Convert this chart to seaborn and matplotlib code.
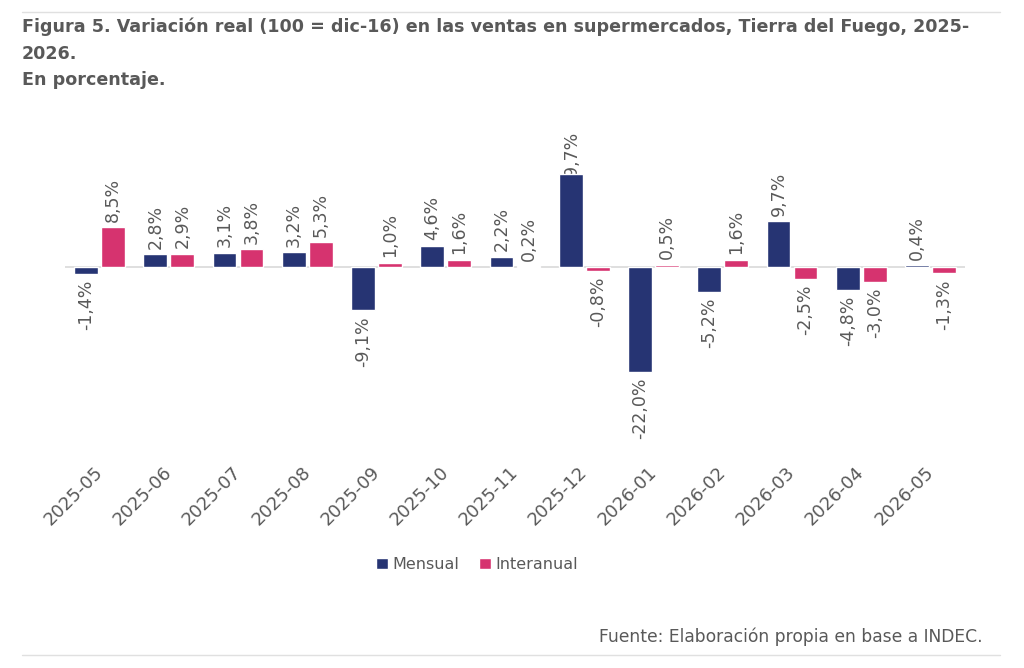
import pandas as pd
import matplotlib.pyplot as plt
import matplotlib.transforms as mtransforms
import seaborn as sns

# Datos (variación % real, ventas en supermercados, Tierra del Fuego)
meses = ['2025-05', '2025-06', '2025-07', '2025-08', '2025-09', '2025-10', '2025-11',
         '2025-12', '2026-01', '2026-02', '2026-03', '2026-04', '2026-05']
mensual = [-1.4, 2.8, 3.1, 3.2, -9.1, 4.6, 2.2, 19.7, -22.0, -5.2, 9.7, -4.8, 0.4]
interanual = [8.5, 2.9, 3.8, 5.3, 1.0, 1.6, 0.2, -0.8, 0.5, 1.6, -2.5, -3.0, -1.3]

df = pd.DataFrame({
    'mes': meses * 2,
    'valor': mensual + interanual,
    'serie': ['Mensual'] * len(meses) + ['Interanual'] * len(meses),
})

navy = '#263473'
pink = '#D6336F'
gris = '#595959'

sns.set_style('white')
plt.rcParams['font.family'] = ['DejaVu Sans']

fig = plt.figure(figsize=(10.24, 6.68), dpi=100)
ax = fig.add_axes([65 / 1024, 1 - 452 / 668, 900 / 1024, 322 / 668])

sns.barplot(data=df, x='mes', y='valor', hue='serie', palette=[navy, pink],
            saturation=1, width=0.78, gap=0.12, ax=ax, legend=True, zorder=3)

ax.set_xlim(-0.5, len(meses) - 0.5)
ax.set_ylim(-39, 29)
ax.axhline(0, color='#D9D9D9', lw=1.2, zorder=2)

# Etiquetas de datos
ymax = ax.get_ylim()[1]
for cont in ax.containers:
    for bar in cont:
        v = bar.get_height()
        x = bar.get_x() + bar.get_width() / 2
        txt = f"{v:.1f}%".replace('.', ',')
        if v > 15:
            # no cabe encima: se ancla al borde superior del área
            ax.text(x, ymax - 0.2, txt, rotation=90, ha='center', va='top', color=gris,
                    fontsize=12.5, zorder=2)
        elif v >= 0:
            ax.annotate(txt, (x, v), xytext=(0, 4), textcoords='offset points',
                        rotation=90, ha='center', va='bottom', color=gris, fontsize=12.5)
        else:
            ax.annotate(txt, (x, v), xytext=(0, -4), textcoords='offset points',
                        rotation=90, ha='center', va='top', color=gris, fontsize=12.5)

ax.set_xlabel('')
ax.set_ylabel('')
ax.set_yticks([])
ax.tick_params(axis='x', length=0, pad=8)
shift = mtransforms.ScaledTranslation(-6 / 100, 0, fig.dpi_scale_trans)
for lab in ax.get_xticklabels():
    lab.set_rotation(45)
    lab.set_ha('right')
    lab.set_rotation_mode('anchor')
    lab.set_color(gris)
    lab.set_fontsize(13)
    lab.set_transform(lab.get_transform() + shift)
for s in ax.spines.values():
    s.set_visible(False)

leg = ax.legend(loc='center', bbox_to_anchor=(0.458, -0.35), ncol=2, frameon=False,
                fontsize=11.5, handlelength=0.75, handleheight=0.75, handletextpad=0.3,
                columnspacing=1.2, labelcolor=gris)

# Título y fuente
fig.text(22 / 1024, 1 - 18 / 668,
         'Figura 5. Variación real (100 = dic-16) en las ventas en supermercados, Tierra del Fuego, 2025-\n2026.\nEn porcentaje.',
         ha='left', va='top', fontsize=12.6, fontweight='bold', color=gris, linespacing=1.6)
fig.text(983 / 1024, 1 - 637 / 668, 'Fuente: Elaboración propia en base a INDEC.',
         ha='right', va='center', fontsize=12.3, color=gris)

fig.add_artist(plt.Line2D([22 / 1024, 1000 / 1024], [1 - 12 / 668, 1 - 12 / 668],
                          color='#E0E0E0', lw=1))
fig.add_artist(plt.Line2D([22 / 1024, 1000 / 1024], [1 - 655 / 668, 1 - 655 / 668],
                          color='#E0E0E0', lw=1))

fig.savefig('out.png', dpi=100)
